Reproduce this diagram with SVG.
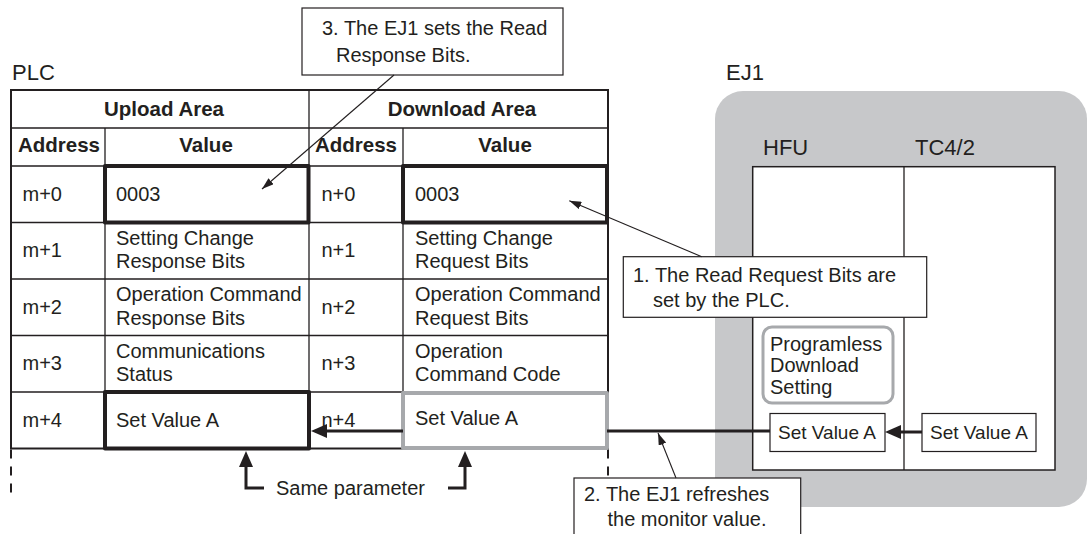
<svg xmlns="http://www.w3.org/2000/svg" width="1089" height="534" viewBox="0 0 1089 534">
<defs>
<style>
text{font-family:"Liberation Sans",Arial,Helvetica,sans-serif;fill:#231f20;font-size:20px}
.b{font-weight:bold;font-size:20.5px}
.lbl{font-size:22px}
.sm{font-size:19px}
.thin{stroke:#231f20;stroke-width:1.3;fill:none}
.thick{stroke:#231f20;stroke-width:4;fill:none;stroke-linejoin:round}
.gray{stroke:#a7a9ac;stroke-width:4;fill:#fff;stroke-linejoin:round}
.box{stroke:#231f20;stroke-width:1.2;fill:#fff}
.lead{stroke:#231f20;stroke-width:1.1;fill:none}
.flow{stroke:#231f20;stroke-width:3;fill:none}
.dash{stroke:#231f20;stroke-width:2;stroke-dasharray:9 8;fill:none}
</style>
<marker id="arr" viewBox="0 0 12 8" refX="12" refY="4" markerWidth="12" markerHeight="8" orient="auto" markerUnits="userSpaceOnUse"><path d="M0,0 L12,4 L0,8 z" fill="#231f20"/></marker>
<marker id="arrT" viewBox="0 0 16 14" refX="2" refY="7" markerWidth="16" markerHeight="14" orient="auto" markerUnits="userSpaceOnUse"><path d="M0,0 L16,7 L0,14 z" fill="#231f20"/></marker>
</defs>
<rect width="1089" height="534" fill="#fff"/>

<g id="plc">
<text class="lbl" x="12" y="80">PLC</text>
<rect x="11" y="90" width="597" height="358.5" fill="#fff" stroke="#231f20" stroke-width="2"/>
<path class="thin" d="M11,128H608M11,166H608M11,222.5H608M11,279H608M11,335.5H608M11,392H608M309,90V448.5M105,128V448.5M403,128V448.5"/>
<path class="dash" d="M11,449.5V494M608,449.5V478"/>
<text class="b" x="164" y="116" text-anchor="middle">Upload Area</text>
<text class="b" x="462" y="116" text-anchor="middle">Download Area</text>
<text class="b" x="59" y="152" text-anchor="middle">Address</text>
<text class="b" x="206" y="152" text-anchor="middle">Value</text>
<text class="b" x="356" y="152" text-anchor="middle">Address</text>
<text class="b" x="505" y="152" text-anchor="middle">Value</text>
<g id="row0">
<rect class="thick" x="105" y="166" width="203.5" height="56.5"/>
<rect class="thick" x="403" y="166" width="204" height="56.5"/>
<text x="22.5" y="200.7">m+0</text><text x="116" y="200.7">0003</text>
<text x="321.5" y="200.7">n+0</text><text x="415" y="200.7">0003</text>
</g>
<g id="row1">
<text x="22.5" y="257.3">m+1</text><text x="116" y="245">Setting Change</text><text x="116" y="268.3">Response Bits</text>
<text x="321.5" y="257.3">n+1</text><text x="415" y="245">Setting Change</text><text x="415" y="268.3">Request Bits</text>
</g>
<g id="row2">
<text x="22.5" y="313.6">m+2</text><text x="116" y="301.2">Operation Command</text><text x="116" y="324.6">Response Bits</text>
<text x="321.5" y="313.6">n+2</text><text x="415" y="301.2">Operation Command</text><text x="415" y="324.6">Request Bits</text>
</g>
<g id="row3">
<text x="22.5" y="370.2">m+3</text><text x="116" y="357.6">Communications</text><text x="116" y="381">Status</text>
<text x="321.5" y="370.2">n+3</text><text x="415" y="357.6">Operation</text><text x="415" y="381">Command Code</text>
</g>
<g id="row4">
<rect class="thick" x="105" y="392" width="204" height="56.5"/>
<rect class="gray" x="403" y="393" width="204" height="55"/>
<text x="22.5" y="426.5">m+4</text><text x="116" y="426.5">Set Value A</text>
<text x="321.5" y="426.5">n+4</text><text x="415" y="425">Set Value A</text>
</g>
</g>

<g id="ej1">
<text class="lbl" x="726" y="80">EJ1</text>
<rect x="715" y="91" width="372" height="416" rx="28" fill="#c7c8ca"/>
<text class="lbl" x="763" y="155">HFU</text>
<text class="lbl" x="915" y="155">TC4/2</text>
<rect x="752.7" y="166.7" width="302.3" height="303.3" fill="#fff" stroke="#231f20" stroke-width="1.5"/>
<path class="thin" d="M904,166.7V470"/>
<g id="programless">
<rect x="763" y="327" width="130" height="76" rx="9" fill="#fff" stroke="#a7a9ac" stroke-width="3"/>
<text x="770" y="350.5">Programless</text>
<text x="770" y="372.4">Download</text>
<text x="770" y="394.3">Setting</text>
</g>
<g id="hfu-sva">
<rect class="box" x="770" y="413.5" width="115" height="38"/>
<text class="sm" x="778" y="439">Set Value A</text>
</g>
<g id="tc-sva">
<rect class="box" x="922" y="413.5" width="114" height="38"/>
<text class="sm" x="930" y="439">Set Value A</text>
</g>
</g>

<g id="same-parameter">
<text x="276" y="495">Same parameter</text>
</g>

<g id="callout3">
<rect class="box" x="302" y="8" width="261" height="67"/>
<text x="322" y="35">3. The EJ1 sets the Read</text>
<text x="336" y="62">Response Bits.</text>
</g>
<g id="callout1">
<rect class="box" x="623.3" y="256.7" width="303.4" height="60.6"/>
<text x="633" y="282">1. The Read Request Bits are</text>
<text x="653" y="307">set by the PLC.</text>
</g>
<g id="callout2">
<rect class="box" x="574" y="478" width="226.7" height="70"/>
<text x="584" y="501">2. The EJ1 refreshes</text>
<text x="607.5" y="526">the monitor value.</text>
</g>

<g id="connectors">
<path class="flow" d="M770,431H607"/>
<path class="flow" d="M403,431H325" marker-end="url(#arrT)"/>
<path class="flow" d="M922,432H899" marker-end="url(#arrT)"/>
<path class="flow" d="M264,488H246V465" marker-end="url(#arrT)"/>
<path class="flow" d="M448,488H465V465" marker-end="url(#arrT)"/>
<path class="lead" d="M394,75L262,189" marker-end="url(#arr)"/>
<path class="lead" d="M701.7,256.7L569.3,200.7" marker-end="url(#arr)"/>
<path class="lead" d="M676,478L658,433" marker-end="url(#arr)"/>
</g>
</svg>
